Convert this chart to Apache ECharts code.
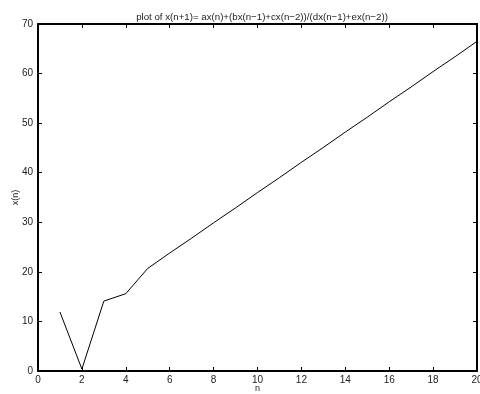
<!DOCTYPE html>
<html>
<head>
<meta charset="utf-8">
<script src="https://cdn.jsdelivr.net/npm/echarts@6/dist/echarts.min.js"></script>
<style>
  html, body { margin: 0; padding: 0; background: #fff; }
  #main { width: 480px; height: 394px; }
</style>
</head>
<body>
<div id="main"></div>
<script>
// data
var n = [1, 2, 3, 4, 5, 6, 7, 8, 9, 10, 11, 12, 13, 14, 15, 16, 17, 18, 19, 20]
var xn = [11.9, 0.4, 14.1, 15.6, 20.7, 23.8, 26.8, 29.9, 32.9, 36.0, 39.0, 42.1, 45.1, 48.2, 51.2, 54.3, 57.3, 60.4, 63.4, 66.5]
var titleText = 'plot of x(n+1)= ax(n)+(bx(n\u22121)+cx(n\u22122))/(dx(n\u22121)+ex(n\u22122))'

var font = 'Liberation Sans, Arial, sans-serif'
var pts = n.map(function (v, i) { return [v, xn[i]] })

// axis helpers (MATLAB-like box, ticks inside on all sides)
function xAx (pos, show) {
  return {
    type: 'value', position: pos, min: 0, max: 20, interval: 2,
    axisLine: { show: true, onZero: false, lineStyle: { color: '#000', width: 2 } },
    axisTick: { show: true, inside: true, length: 4, lineStyle: { color: '#000', width: 1 } },
    axisLabel: { show: show, color: '#222', fontSize: 10, fontFamily: font, margin: 4 },
    splitLine: { show: false },
    name: show ? 'n' : '', nameLocation: 'middle', nameGap: 13, nameMoveOverlap: false,
    nameTextStyle: { color: '#222', fontSize: 9, fontFamily: font }
  }
}
function yAx (pos, show) {
  return {
    type: 'value', position: pos, min: 0, max: 70, interval: 10,
    axisLine: { show: true, onZero: false, lineStyle: { color: '#000', width: 2 } },
    axisTick: { show: true, inside: true, length: 4, lineStyle: { color: '#000', width: 1 } },
    axisLabel: { show: show, color: '#222', fontSize: 10, fontFamily: font, margin: 5 },
    splitLine: { show: false },
    name: show ? 'x(n)' : '', nameLocation: 'middle', nameGap: 18, nameMoveOverlap: false,
    nameTextStyle: { color: '#222', fontSize: 9, fontFamily: font }
  }
}

var chart = echarts.init(document.getElementById('main'))
chart.setOption({
  animation: false,
  title: {
    text: titleText, left: 257, top: 7, textAlign: 'center',
    textStyle: { fontSize: 9.7, fontWeight: 'normal', color: '#222', fontFamily: font }
  },
  grid: { left: 38, right: 3, top: 24, bottom: 23, containLabel: false, outerBoundsMode: 'none' },
  xAxis: [xAx('bottom', true), xAx('top', false)],
  yAxis: [yAx('left', true), yAx('right', false)],
  series: [{
    type: 'line', xAxisIndex: 0, yAxisIndex: 0,
    data: pts, showSymbol: false, symbol: 'none',
    lineStyle: { color: '#000', width: 1 }
  }]
})
</script>
</body>
</html>
